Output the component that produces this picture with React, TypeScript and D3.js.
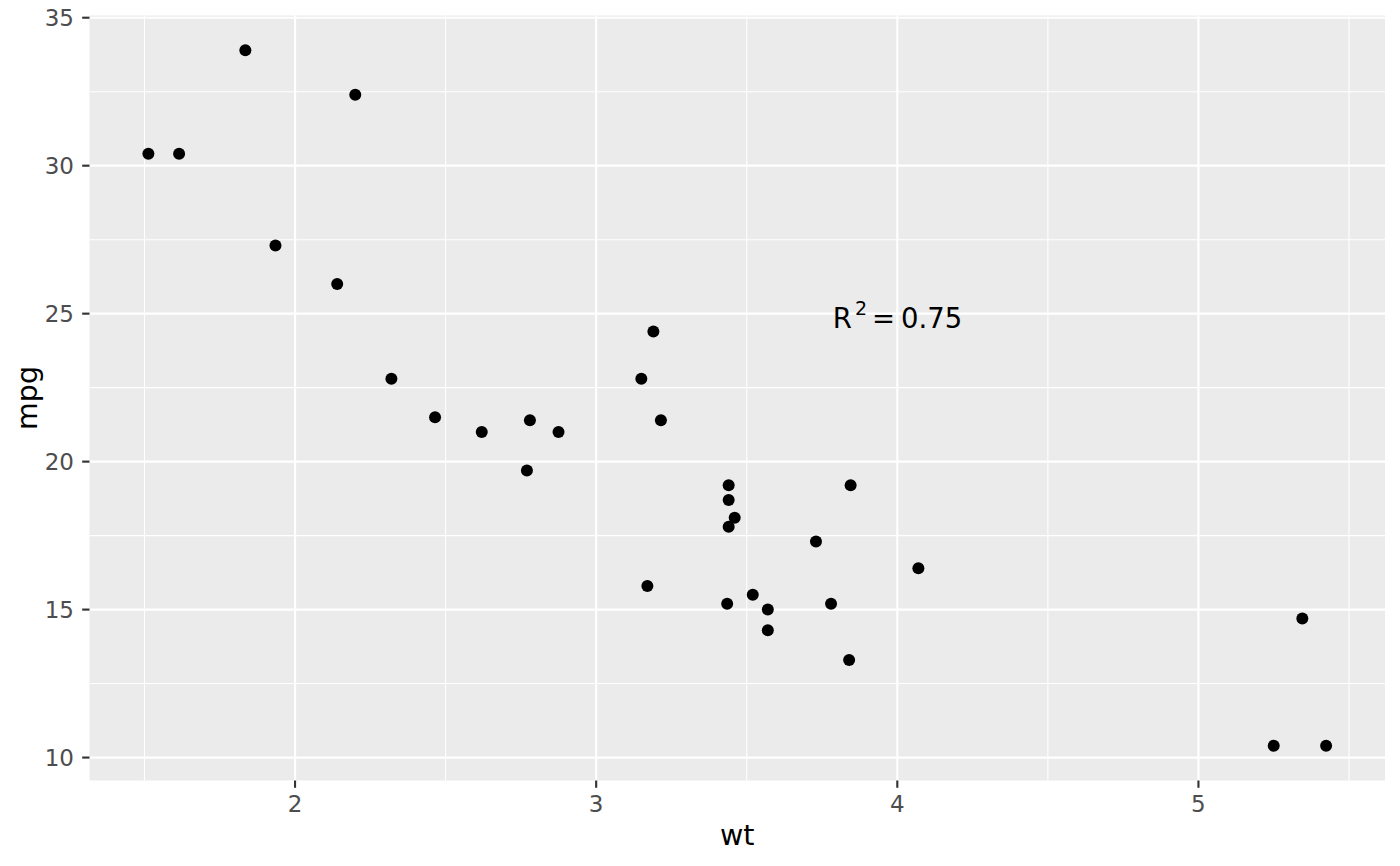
import * as d3 from "d3";

const wt = [2.62, 2.875, 2.32, 3.215, 3.44, 3.46, 3.57, 3.19, 3.15, 3.44, 3.44, 4.07, 3.73, 3.78, 5.25, 5.424, 5.345, 2.2, 1.615, 1.835, 2.465, 3.52, 3.435, 3.84, 3.845, 1.935, 2.14, 1.513, 3.17, 2.77, 3.57, 2.78];
const mpg = [21.0, 21.0, 22.8, 21.4, 18.7, 18.1, 14.3, 24.4, 22.8, 19.2, 17.8, 16.4, 17.3, 15.2, 10.4, 10.4, 14.7, 32.4, 30.4, 33.9, 21.5, 15.5, 15.2, 13.3, 19.2, 27.3, 26.0, 30.4, 15.8, 19.7, 15.0, 21.4];
const xTicks = [2, 3, 4, 5];
const yTicks = [10, 15, 20, 25, 30, 35];
const xMinor = [1.5, 2.5, 3.5, 4.5, 5.5];
const yMinor = [12.5, 17.5, 22.5, 27.5, 32.5];
const label = { x: 4, y: 25, r2: "0.75" };

const W = 1400;
const H = 866;
const panel = { left: 89.5, right: 1385, top: 15.5, bottom: 780.5 };
const font = "'DejaVu Sans', sans-serif";
const tickSize = 23;
const titleSize = 28.5;

function expand([a, b]: [number, number]): [number, number] {
  const pad = (b - a) * 0.05;
  return [a - pad, b + pad];
}

export default function App() {
  const x = d3.scaleLinear().domain(expand(d3.extent(wt) as [number, number])).range([panel.left, panel.right]);
  const y = d3.scaleLinear().domain(expand(d3.extent(mpg) as [number, number])).range([panel.bottom, panel.top]);
  const points = wt.map((w, i) => ({ w, m: mpg[i] }));

  return (
    <svg width={W} height={H} style={{ position: "absolute", left: 0, top: 0, background: "#fff" }} fontFamily={font}>
      <rect x={panel.left} y={panel.top} width={panel.right - panel.left} height={panel.bottom - panel.top} fill="#EBEBEB" />
      {xMinor.map((v) => (
        <line key={"xm" + v} x1={x(v)} x2={x(v)} y1={panel.top} y2={panel.bottom} stroke="#fff" strokeWidth={1.07} />
      ))}
      {yMinor.map((v) => (
        <line key={"ym" + v} x1={panel.left} x2={panel.right} y1={y(v)} y2={y(v)} stroke="#fff" strokeWidth={1.07} />
      ))}
      {xTicks.map((v) => (
        <line key={"xg" + v} x1={x(v)} x2={x(v)} y1={panel.top} y2={panel.bottom} stroke="#fff" strokeWidth={2.13} />
      ))}
      {yTicks.map((v) => (
        <line key={"yg" + v} x1={panel.left} x2={panel.right} y1={y(v)} y2={y(v)} stroke="#fff" strokeWidth={2.13} />
      ))}
      {points.map((p, i) => (
        <circle key={i} cx={x(p.w)} cy={y(p.m)} r={6} fill="#000" />
      ))}
      <text x={x(label.x) - 64.5} y={y(label.y) + 14} fontSize={27.5} fill="#000">
        <tspan>R</tspan>
        <tspan dx={3} dy={-13} fontSize={19}>2</tspan>
        <tspan dx={5} dy={13}>=</tspan>
        <tspan dx={6}>{label.r2}</tspan>
      </text>
      {/* axes */}
      {xTicks.map((v) => (
        <g key={"xt" + v}>
          <line x1={x(v)} x2={x(v)} y1={panel.bottom} y2={panel.bottom + 7.3} stroke="#333" strokeWidth={2.13} />
          <text x={x(v)} y={panel.bottom + 31} textAnchor="middle" fontSize={tickSize} fill="#4D4D4D">{v}</text>
        </g>
      ))}
      {yTicks.map((v) => (
        <g key={"yt" + v}>
          <line x1={panel.left - 7.3} x2={panel.left} y1={y(v)} y2={y(v)} stroke="#333" strokeWidth={2.13} />
          <text x={panel.left - 15.5} y={y(v) + 8.4} textAnchor="end" fontSize={tickSize} fill="#4D4D4D">{v}</text>
        </g>
      ))}
      <text x={(panel.left + panel.right) / 2} y={845} textAnchor="middle" fontSize={titleSize} fill="#000">wt</text>
      <text transform={`translate(37,${(panel.top + panel.bottom) / 2}) rotate(-90)`} textAnchor="middle" fontSize={titleSize} fill="#000">mpg</text>
    </svg>
  );
}
